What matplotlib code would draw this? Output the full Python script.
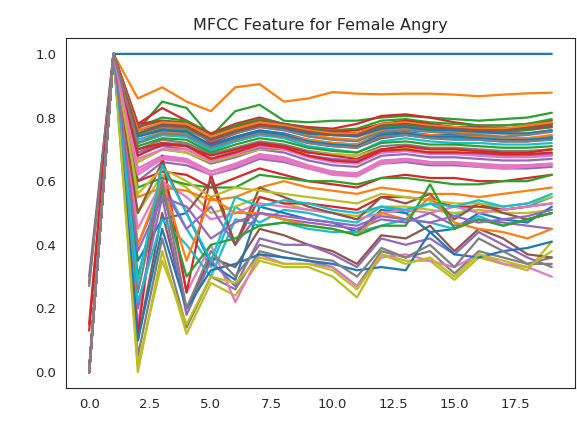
import matplotlib
matplotlib.use("Agg")
import matplotlib.pyplot as plt
import seaborn as sns

sns.set_style("white")

coef = list(range(20))

# one row per clip, 20 scaled MFCC values each
rows = [
    [0.00, 1, 1.0, 1.0, 1.0, 1.0, 1.0, 1.0, 1.0, 1.0, 1.0, 1.0, 1.0, 1.0, 1.0, 1.0, 1.0, 1.0, 1.0, 1.0],
    [0.00, 1, 0.86, 0.895, 0.85, 0.82, 0.895, 0.905, 0.85, 0.86, 0.88, 0.875, 0.873, 0.875, 0.875, 0.872, 0.867, 0.872, 0.876, 0.878],
    [0.00, 1, 0.76, 0.85, 0.83, 0.74, 0.82, 0.84, 0.79, 0.785, 0.79, 0.79, 0.80, 0.805, 0.80, 0.795, 0.79, 0.795, 0.80, 0.815],
    [0.13, 1, 0.78, 0.83, 0.79, 0.75, 0.78, 0.80, 0.78, 0.77, 0.765, 0.78, 0.805, 0.81, 0.80, 0.785, 0.775, 0.775, 0.78, 0.79],
    [0.30, 1, 0.60, 0.66, 0.65, 0.62, 0.64, 0.67, 0.66, 0.64, 0.63, 0.62, 0.655, 0.66, 0.65, 0.65, 0.645, 0.64, 0.64, 0.645],
    [0.28, 1, 0.72, 0.745, 0.74, 0.70, 0.725, 0.745, 0.74, 0.72, 0.71, 0.705, 0.735, 0.745, 0.735, 0.735, 0.73, 0.725, 0.725, 0.735],
    [0.00, 1, 0.64, 0.68, 0.67, 0.63, 0.655, 0.685, 0.675, 0.65, 0.63, 0.625, 0.665, 0.67, 0.66, 0.66, 0.655, 0.65, 0.65, 0.655],
    [0.27, 1, 0.05, 0.42, 0.14, 0.30, 0.26, 0.38, 0.36, 0.35, 0.33, 0.27, 0.38, 0.36, 0.38, 0.31, 0.38, 0.36, 0.34, 0.36],
    [0.00, 1, 0.00, 0.38, 0.12, 0.28, 0.24, 0.35, 0.33, 0.33, 0.30, 0.235, 0.37, 0.35, 0.35, 0.29, 0.36, 0.34, 0.32, 0.41],
    [0.00, 1, 0.30, 0.60, 0.45, 0.33, 0.52, 0.47, 0.51, 0.50, 0.48, 0.47, 0.52, 0.50, 0.53, 0.49, 0.53, 0.51, 0.52, 0.55],
    [0.00, 1, 0.74, 0.765, 0.755, 0.715, 0.74, 0.76, 0.75, 0.73, 0.72, 0.715, 0.75, 0.755, 0.745, 0.745, 0.74, 0.735, 0.735, 0.74],
    [0.00, 1, 0.75, 0.77, 0.765, 0.725, 0.75, 0.77, 0.76, 0.745, 0.735, 0.73, 0.76, 0.765, 0.76, 0.755, 0.75, 0.75, 0.75, 0.76],
    [0.00, 1, 0.745, 0.76, 0.76, 0.73, 0.755, 0.775, 0.765, 0.75, 0.745, 0.745, 0.77, 0.775, 0.765, 0.76, 0.76, 0.755, 0.76, 0.77],
    [0.00, 1, 0.60, 0.63, 0.62, 0.58, 0.61, 0.64, 0.62, 0.60, 0.59, 0.58, 0.61, 0.62, 0.61, 0.61, 0.60, 0.60, 0.61, 0.62],
    [0.00, 1, 0.66, 0.70, 0.69, 0.655, 0.675, 0.70, 0.69, 0.665, 0.65, 0.645, 0.68, 0.685, 0.675, 0.675, 0.67, 0.665, 0.665, 0.67],
    [0.00, 1, 0.10, 0.50, 0.20, 0.36, 0.33, 0.45, 0.43, 0.40, 0.38, 0.34, 0.43, 0.42, 0.46, 0.38, 0.45, 0.42, 0.37, 0.36],
    [0.00, 1, 0.15, 0.62, 0.25, 0.40, 0.22, 0.37, 0.34, 0.34, 0.33, 0.27, 0.36, 0.37, 0.35, 0.33, 0.37, 0.34, 0.33, 0.30],
    [0.00, 1, 0.70, 0.73, 0.72, 0.685, 0.705, 0.725, 0.715, 0.695, 0.685, 0.68, 0.71, 0.715, 0.705, 0.705, 0.70, 0.695, 0.695, 0.70],
    [0.00, 1, 0.50, 0.62, 0.58, 0.50, 0.52, 0.55, 0.53, 0.51, 0.50, 0.49, 0.52, 0.52, 0.51, 0.50, 0.51, 0.50, 0.50, 0.51],
    [0.00, 1, 0.72, 0.745, 0.74, 0.695, 0.725, 0.745, 0.735, 0.71, 0.70, 0.69, 0.725, 0.735, 0.725, 0.72, 0.72, 0.715, 0.715, 0.72],
    [0.00, 1, 0.35, 0.48, 0.50, 0.34, 0.29, 0.52, 0.50, 0.48, 0.47, 0.44, 0.51, 0.50, 0.44, 0.45, 0.50, 0.48, 0.47, 0.52],
    [0.00, 1, 0.73, 0.755, 0.75, 0.705, 0.73, 0.75, 0.745, 0.73, 0.72, 0.715, 0.745, 0.75, 0.745, 0.74, 0.74, 0.735, 0.735, 0.745],
    [0.00, 1, 0.58, 0.61, 0.59, 0.58, 0.58, 0.62, 0.61, 0.60, 0.60, 0.59, 0.61, 0.61, 0.60, 0.59, 0.59, 0.60, 0.60, 0.62],
    [0.00, 1, 0.12, 0.68, 0.25, 0.62, 0.40, 0.55, 0.53, 0.53, 0.52, 0.51, 0.55, 0.55, 0.54, 0.52, 0.52, 0.51, 0.52, 0.53],
    [0.00, 1, 0.20, 0.55, 0.18, 0.35, 0.27, 0.42, 0.40, 0.40, 0.37, 0.33, 0.42, 0.40, 0.42, 0.37, 0.44, 0.40, 0.36, 0.33],
    [0.00, 1, 0.76, 0.78, 0.775, 0.735, 0.76, 0.78, 0.77, 0.755, 0.745, 0.745, 0.775, 0.78, 0.77, 0.765, 0.76, 0.76, 0.765, 0.775],
    [0.00, 1, 0.45, 0.60, 0.55, 0.48, 0.50, 0.53, 0.52, 0.51, 0.50, 0.48, 0.50, 0.51, 0.50, 0.52, 0.50, 0.51, 0.52, 0.53],
    [0.00, 1, 0.69, 0.72, 0.715, 0.67, 0.695, 0.715, 0.705, 0.68, 0.665, 0.66, 0.695, 0.70, 0.69, 0.69, 0.685, 0.68, 0.68, 0.685],
    [0.00, 1, 0.66, 0.70, 0.69, 0.66, 0.68, 0.70, 0.70, 0.69, 0.685, 0.68, 0.70, 0.705, 0.70, 0.70, 0.695, 0.69, 0.69, 0.70],
    [0.00, 1, 0.22, 0.48, 0.40, 0.30, 0.48, 0.46, 0.47, 0.45, 0.44, 0.44, 0.46, 0.48, 0.47, 0.45, 0.49, 0.46, 0.48, 0.50],
    [0.00, 1, 0.76, 0.775, 0.77, 0.73, 0.755, 0.775, 0.765, 0.75, 0.745, 0.74, 0.765, 0.77, 0.76, 0.76, 0.755, 0.75, 0.75, 0.76],
    [0.00, 1, 0.55, 0.58, 0.57, 0.54, 0.55, 0.58, 0.60, 0.58, 0.57, 0.56, 0.58, 0.57, 0.56, 0.56, 0.55, 0.56, 0.57, 0.58],
    [0.00, 1, 0.77, 0.80, 0.79, 0.745, 0.775, 0.795, 0.78, 0.765, 0.76, 0.765, 0.79, 0.795, 0.785, 0.78, 0.775, 0.775, 0.78, 0.795],
    [0.00, 1, 0.78, 0.79, 0.78, 0.72, 0.75, 0.78, 0.77, 0.76, 0.755, 0.76, 0.78, 0.79, 0.78, 0.77, 0.765, 0.765, 0.77, 0.78],
    [0.00, 1, 0.40, 0.58, 0.45, 0.52, 0.40, 0.50, 0.48, 0.47, 0.46, 0.45, 0.48, 0.47, 0.50, 0.46, 0.48, 0.47, 0.46, 0.45],
    [0.00, 1, 0.50, 0.66, 0.50, 0.60, 0.40, 0.58, 0.55, 0.52, 0.50, 0.48, 0.55, 0.53, 0.56, 0.48, 0.53, 0.50, 0.48, 0.50],
    [0.00, 1, 0.62, 0.67, 0.66, 0.62, 0.645, 0.675, 0.665, 0.64, 0.62, 0.615, 0.655, 0.665, 0.655, 0.655, 0.645, 0.64, 0.645, 0.65],
    [0.00, 1, 0.75, 0.77, 0.765, 0.725, 0.75, 0.77, 0.76, 0.74, 0.73, 0.725, 0.755, 0.76, 0.755, 0.75, 0.745, 0.74, 0.745, 0.755],
    [0.00, 1, 0.56, 0.64, 0.60, 0.55, 0.58, 0.57, 0.56, 0.55, 0.54, 0.53, 0.56, 0.55, 0.54, 0.53, 0.53, 0.52, 0.53, 0.55],
    [0.00, 1, 0.73, 0.75, 0.745, 0.70, 0.73, 0.75, 0.74, 0.725, 0.715, 0.71, 0.74, 0.745, 0.74, 0.735, 0.73, 0.725, 0.73, 0.735],
    [0.00, 1, 0.10, 0.45, 0.20, 0.32, 0.34, 0.37, 0.36, 0.35, 0.34, 0.32, 0.33, 0.32, 0.44, 0.37, 0.36, 0.38, 0.39, 0.41],
    [0.00, 1, 0.40, 0.60, 0.35, 0.55, 0.50, 0.50, 0.48, 0.46, 0.45, 0.43, 0.50, 0.48, 0.55, 0.47, 0.45, 0.44, 0.42, 0.45],
    [0.00, 1, 0.30, 0.57, 0.30, 0.40, 0.42, 0.46, 0.47, 0.46, 0.45, 0.43, 0.46, 0.46, 0.59, 0.45, 0.48, 0.46, 0.48, 0.50],
    [0.15, 1, 0.70, 0.72, 0.71, 0.68, 0.70, 0.72, 0.71, 0.69, 0.68, 0.67, 0.70, 0.71, 0.70, 0.70, 0.695, 0.69, 0.69, 0.70],
    [0.00, 1, 0.69, 0.71, 0.70, 0.665, 0.685, 0.705, 0.70, 0.68, 0.67, 0.665, 0.69, 0.695, 0.69, 0.69, 0.685, 0.68, 0.68, 0.685],
    [0.00, 1, 0.77, 0.79, 0.785, 0.745, 0.77, 0.79, 0.78, 0.765, 0.755, 0.75, 0.78, 0.785, 0.775, 0.77, 0.77, 0.765, 0.77, 0.78],
    [0.00, 1, 0.67, 0.70, 0.70, 0.665, 0.685, 0.71, 0.70, 0.675, 0.66, 0.655, 0.69, 0.695, 0.685, 0.685, 0.68, 0.675, 0.675, 0.68],
    [0.00, 1, 0.25, 0.60, 0.20, 0.38, 0.30, 0.40, 0.38, 0.36, 0.35, 0.30, 0.39, 0.36, 0.40, 0.33, 0.42, 0.38, 0.34, 0.34],
    [0.00, 1, 0.02, 0.35, 0.15, 0.30, 0.28, 0.36, 0.34, 0.34, 0.32, 0.26, 0.37, 0.34, 0.36, 0.30, 0.37, 0.35, 0.33, 0.38],
    [0.00, 1, 0.28, 0.65, 0.50, 0.35, 0.55, 0.52, 0.54, 0.53, 0.51, 0.50, 0.52, 0.51, 0.53, 0.52, 0.54, 0.52, 0.53, 0.56],
    [0.00, 1, 0.74, 0.76, 0.755, 0.71, 0.735, 0.755, 0.745, 0.725, 0.715, 0.71, 0.745, 0.75, 0.74, 0.74, 0.735, 0.73, 0.73, 0.735],
    [0.00, 1, 0.76, 0.785, 0.78, 0.74, 0.765, 0.785, 0.775, 0.76, 0.75, 0.75, 0.78, 0.785, 0.775, 0.77, 0.765, 0.765, 0.775, 0.785],
    [0.00, 1, 0.71, 0.735, 0.73, 0.69, 0.715, 0.735, 0.725, 0.705, 0.695, 0.69, 0.72, 0.725, 0.715, 0.715, 0.71, 0.705, 0.705, 0.71],
    [0.00, 1, 0.68, 0.715, 0.71, 0.67, 0.69, 0.715, 0.705, 0.68, 0.665, 0.66, 0.695, 0.70, 0.69, 0.69, 0.69, 0.685, 0.685, 0.69],
    [0.00, 1, 0.38, 0.55, 0.52, 0.42, 0.47, 0.50, 0.49, 0.48, 0.47, 0.46, 0.49, 0.48, 0.47, 0.49, 0.47, 0.48, 0.49, 0.51],
    [0.00, 1, 0.75, 0.775, 0.77, 0.73, 0.755, 0.775, 0.77, 0.755, 0.745, 0.745, 0.775, 0.78, 0.77, 0.765, 0.76, 0.76, 0.765, 0.77],
    [0.00, 1, 0.63, 0.675, 0.665, 0.63, 0.65, 0.68, 0.67, 0.645, 0.625, 0.62, 0.66, 0.67, 0.66, 0.66, 0.65, 0.645, 0.65, 0.655],
    [0.00, 1, 0.72, 0.75, 0.745, 0.705, 0.73, 0.75, 0.74, 0.72, 0.71, 0.705, 0.74, 0.745, 0.735, 0.73, 0.73, 0.725, 0.725, 0.73],
]

fig = plt.figure(figsize=(5.77, 4.22), dpi=100)
ax = fig.add_axes([0.1144, 0.0806, 0.882, 0.8294])
for r in rows:
    ax.plot(coef, r, lw=1.6)

ax.set_title("MFCC Feature for Female Angry", fontsize=11.5)
ax.tick_params(labelsize=9.5)
fig.savefig("out.png", dpi=100)
